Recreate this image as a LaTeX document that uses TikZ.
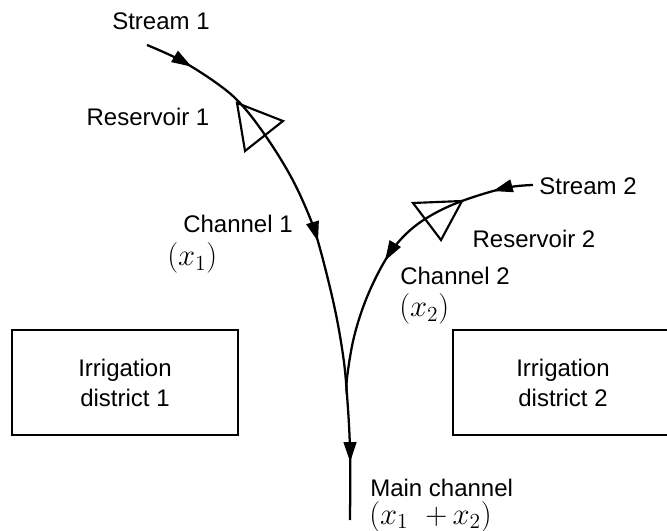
\documentclass[tikz,border=0pt]{standalone}
\usepackage{fix-cm}
\usepackage{fontspec}
\setmainfont{Liberation Sans}
\usetikzlibrary{arrows.meta,decorations.markings}
\begin{document}
\begin{tikzpicture}[x=0.75pt,y=-0.75pt,
  lbl/.style={font=\fontsize{18}{24}\selectfont, inner sep=0pt},
  mlbl/.style={font=\fontsize{23}{23}\selectfont, inner sep=0pt},
  flow/.style={line width=1.7pt},
  resv/.style={line width=1.6pt, line join=miter},
  box/.style={draw, line width=1.6pt, minimum width=226*0.75pt, minimum height=105*0.75pt, align=center, font=\fontsize{18}{22.5}\selectfont},
  flowtip/.tip={Triangle[length=15pt,width=9.5pt]}]
\useasboundingbox (0,0) rectangle (667,531);
% coordinates of channel 1
\coordinate (s1) at (147,45);
\coordinate (c1a) at (180,60);
\coordinate (c1b) at (215,82);
\coordinate (r1v) at (240,103);
\coordinate (c1c) at (265,135);
\coordinate (c1d) at (290,175);
\coordinate (c1e) at (308,213);
\coordinate (c1f) at (319,245);
\coordinate (c1g) at (334,305);
\coordinate (c1h) at (343,355);
\coordinate (join) at (347,395);
\coordinate (c1i) at (350,450);
\coordinate (mend) at (350,520);
% channel 2
\coordinate (s2) at (533,185);
\coordinate (c2a) at (505,188);
\coordinate (r2v) at (462,201);
\coordinate (c2b) at (430,216);
\coordinate (c2c) at (406,234);
\coordinate (c2d) at (386,259);
\coordinate (c2e) at (367,297);
\coordinate (c2f) at (354,337);
\coordinate (c2g) at (347,378);

\draw[flow, decoration={markings,
   mark=at position 0.09 with {\arrow{flowtip}},
   mark=at position 0.49 with {\arrow{flowtip}},
   mark=at position 0.895 with {\arrow{flowtip}}}, postaction={decorate}]
  plot[smooth, tension=0.6] coordinates {(s1) (c1a) (c1b) (r1v) (c1c) (c1d) (c1e) (c1f) (c1g) (c1h) (join) (c1i) (mend)};

\draw[flow, decoration={markings,
   mark=at position 0.13 with {\arrow{flowtip}},
   mark=at position 0.55 with {\arrow{flowtip}}}, postaction={decorate}]
  plot[smooth, tension=0.6] coordinates {(s2) (c2a) (r2v) (c2b) (c2c) (c2d) (c2e) (c2f) (c2g) (join)};

% reservoirs
\draw[resv] (237,103) -- (283,121) -- (245,151) -- cycle;
\draw[resv] (413,203) -- (462,201) -- (441,240) -- cycle;

% boxes
\node[box] (d1) at (125,382.5) {Irrigation\\district 1};
\node[lbl, align=center, font=\fontsize{18}{22.5}\selectfont] (d2) at (563,382.5) {Irrigation\\district 2};
\draw[line width=1.6pt] (667,330) -- (453,330) -- (453,435) -- (667,435);

% labels
\node[lbl] (t1) at (161,21) {Stream 1};
\node[lbl] (t2) at (148,117) {Reservoir 1};
\node[lbl, anchor=west] (t3) at (183,224) {Channel 1};
\node[mlbl, anchor=west] (t4) at (167,258) {$(x_1)$};
\node[lbl] (t5) at (588,186) {Stream 2};
\node[lbl] (t6) at (534,239) {Reservoir 2};
\node[lbl, anchor=west] (t7) at (400,276) {Channel 2};
\node[mlbl, anchor=west] (t8) at (399,309) {$(x_2)$};
\node[lbl, anchor=west] (t9) at (370,488) {Main channel};
\node[mlbl, anchor=base west] (t10) at (369,524) {$(x_1\;\;{+}\,x_2)$};
\end{tikzpicture}
\end{document}
